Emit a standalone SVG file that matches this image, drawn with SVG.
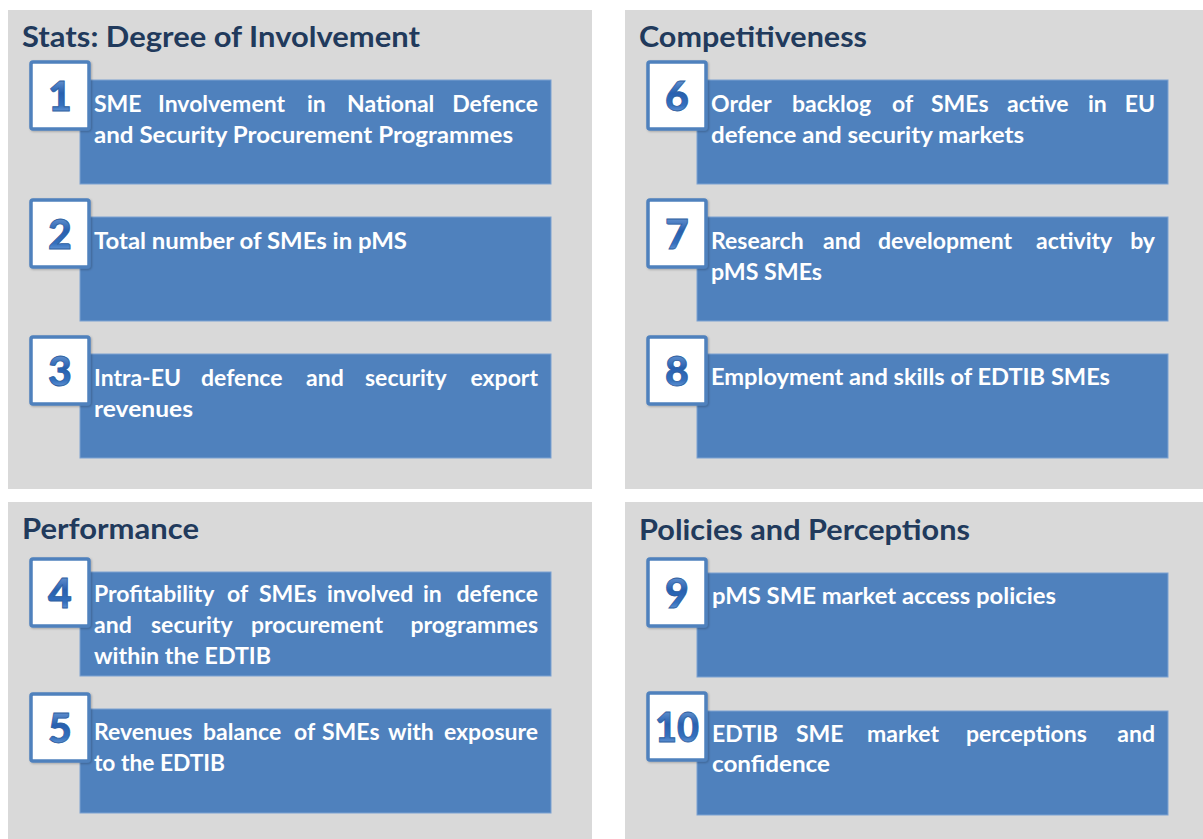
<svg xmlns="http://www.w3.org/2000/svg" width="1203" height="839" viewBox="0 0 1203 839">
<defs>
<linearGradient id="numGrad" x1="0" y1="0" x2="0" y2="1">
<stop offset="0" stop-color="#8AB2E4"/>
<stop offset="0.45" stop-color="#2760B0"/>
<stop offset="0.7" stop-color="#3470BE"/>
<stop offset="1" stop-color="#9CC0EC"/>
</linearGradient>
<filter id="sh" x="-10%" y="-10%" width="130%" height="130%">
<feDropShadow dx="1" dy="1" stdDeviation="0.8" flood-color="#000" flood-opacity="0.25"/>
</filter>
<style>
.panel{fill:#D9D9D9}
.title{font-family:Lato,"Open Sans","Liberation Sans",sans-serif;font-weight:700;font-size:28px;fill:#213A5C}
.blue{fill:#4F81BD;stroke:#7DA2D2;stroke-width:1}
.numbox{fill:#FFFFFF;stroke:#4F81BD;stroke-width:3.5}
.num{font-family:Lato,"Open Sans","Liberation Sans",sans-serif;font-weight:900;font-size:41px;fill:url(#numGrad);stroke:#2E5E9E;stroke-width:0.8;text-anchor:middle}
.txt{font-family:Lato,"Open Sans","Liberation Sans",sans-serif;font-weight:700;font-size:23px;fill:#FFFFFF}
.end{text-anchor:end}
</style>
</defs>
<rect width="1203" height="839" fill="#FFFFFF"/>
<g id="panels">
<rect class="panel" x="8" y="10" width="584" height="479"/>
<rect class="panel" x="625" y="10" width="578" height="479"/>
<rect class="panel" x="8" y="502" width="584" height="337"/>
<rect class="panel" x="625" y="502" width="578" height="337"/>
</g>
<g id="titles">
<text class="title" x="22" y="47" textLength="398" lengthAdjust="spacingAndGlyphs">Stats: Degree of Involvement</text>
<text class="title" x="639" y="47" textLength="228" lengthAdjust="spacingAndGlyphs">Competitiveness</text>
<text class="title" x="22" y="539" textLength="177" lengthAdjust="spacingAndGlyphs">Performance</text>
<text class="title" x="639" y="540" textLength="331" lengthAdjust="spacingAndGlyphs">Policies and Perceptions</text>
</g>
<g id="connectors"/>

<g id="node1">
<rect class="blue" x="80" y="80" width="471" height="104"/>
<rect class="numbox" x="31" y="62" width="58" height="67" rx="2" filter="url(#sh)"/>
<text class="num" x="60" y="111">1</text>
<text class="txt" y="112"><tspan x="94">SME</tspan><tspan x="158">Involvement</tspan><tspan x="307">in</tspan><tspan x="347">National</tspan></text>
<text class="txt end" x="538" y="112">Defence</text>
<text class="txt" x="94" y="143" textLength="419" lengthAdjust="spacingAndGlyphs">and Security Procurement Programmes</text>
</g>

<g id="node2">
<rect class="blue" x="80" y="217" width="471" height="104"/>
<rect class="numbox" x="31" y="200" width="58" height="67" rx="2" filter="url(#sh)"/>
<text class="num" x="60" y="249">2</text>
<text class="txt" x="94" y="249" textLength="313" lengthAdjust="spacingAndGlyphs">Total number of SMEs in pMS</text>
</g>

<g id="node3">
<rect class="blue" x="80" y="354" width="471" height="104"/>
<rect class="numbox" x="31" y="337" width="58" height="67" rx="2" filter="url(#sh)"/>
<text class="num" x="60" y="386">3</text>
<text class="txt" y="386"><tspan x="94">Intra-EU</tspan><tspan x="201">defence</tspan><tspan x="306">and</tspan><tspan x="365">security</tspan></text>
<text class="txt end" x="538" y="386">export</text>
<text class="txt" x="94" y="417" textLength="99" lengthAdjust="spacingAndGlyphs">revenues</text>
</g>

<g id="node4">
<rect class="blue" x="80" y="572" width="471" height="104"/>
<rect class="numbox" x="31" y="559" width="58" height="67" rx="2" filter="url(#sh)"/>
<text class="num" x="60" y="608">4</text>
<text class="txt" y="602"><tspan x="94">Profitability</tspan><tspan x="227">of</tspan><tspan x="259">SMEs</tspan><tspan x="327">involved</tspan><tspan x="423">in</tspan></text>
<text class="txt end" x="538" y="602">defence</text>
<text class="txt" y="633"><tspan x="94">and</tspan><tspan x="151">security</tspan><tspan x="251">procurement</tspan></text>
<text class="txt end" x="538" y="633">programmes</text>
<text class="txt" x="94" y="664" textLength="177" lengthAdjust="spacingAndGlyphs">within the EDTIB</text>
</g>

<g id="node5">
<rect class="blue" x="80" y="709" width="471" height="104"/>
<rect class="numbox" x="31" y="694" width="58" height="67" rx="2" filter="url(#sh)"/>
<text class="num" x="60" y="743">5</text>
<text class="txt" y="740"><tspan x="94">Revenues</tspan><tspan x="203">balance</tspan><tspan x="294">of</tspan><tspan x="322">SMEs</tspan><tspan x="388">with</tspan></text>
<text class="txt end" x="538" y="740">exposure</text>
<text class="txt" x="94" y="771" textLength="131" lengthAdjust="spacingAndGlyphs">to the EDTIB</text>
</g>

<g id="node6">
<rect class="blue" x="697" y="80" width="471" height="104"/>
<rect class="numbox" x="648" y="62" width="58" height="67" rx="2" filter="url(#sh)"/>
<text class="num" x="677" y="111">6</text>
<text class="txt" y="112"><tspan x="711">Order</tspan><tspan x="792">backlog</tspan><tspan x="892">of</tspan><tspan x="931">SMEs</tspan><tspan x="1007">active</tspan><tspan x="1088">in</tspan></text>
<text class="txt end" x="1155" y="112">EU</text>
<text class="txt" x="711" y="143" textLength="313" lengthAdjust="spacingAndGlyphs">defence and security markets</text>
</g>

<g id="node7">
<rect class="blue" x="697" y="217" width="471" height="104"/>
<rect class="numbox" x="648" y="200" width="58" height="67" rx="2" filter="url(#sh)"/>
<text class="num" x="677" y="249">7</text>
<text class="txt" y="249"><tspan x="711">Research</tspan><tspan x="823">and</tspan><tspan x="878">development</tspan><tspan x="1036">activity</tspan></text>
<text class="txt end" x="1155" y="249">by</text>
<text class="txt" x="711" y="280" textLength="111" lengthAdjust="spacingAndGlyphs">pMS SMEs</text>
</g>

<g id="node8">
<rect class="blue" x="697" y="354" width="471" height="104"/>
<rect class="numbox" x="648" y="337" width="58" height="67" rx="2" filter="url(#sh)"/>
<text class="num" x="677" y="386">8</text>
<text class="txt" x="711" y="385" textLength="399" lengthAdjust="spacingAndGlyphs">Employment and skills of EDTIB SMEs</text>
</g>

<g id="node9">
<rect class="blue" x="697" y="573" width="471" height="104"/>
<rect class="numbox" x="648" y="559" width="58" height="67" rx="2" filter="url(#sh)"/>
<text class="num" x="677" y="608">9</text>
<text class="txt" x="712" y="604" textLength="344" lengthAdjust="spacingAndGlyphs">pMS SME market access policies</text>
</g>

<g id="node10">
<rect class="blue" x="697" y="711" width="471" height="104"/>
<rect class="numbox" x="648" y="693" width="58" height="67" rx="2" filter="url(#sh)"/>
<text class="num" x="677" y="742" textLength="44" lengthAdjust="spacingAndGlyphs">10</text>
<text class="txt" y="742"><tspan x="712">EDTIB</tspan><tspan x="796">SME</tspan><tspan x="867">market</tspan><tspan x="966">perceptions</tspan></text>
<text class="txt end" x="1155" y="742">and</text>
<text class="txt" x="712" y="772" textLength="118" lengthAdjust="spacingAndGlyphs">confidence</text>
</g>
</svg>
